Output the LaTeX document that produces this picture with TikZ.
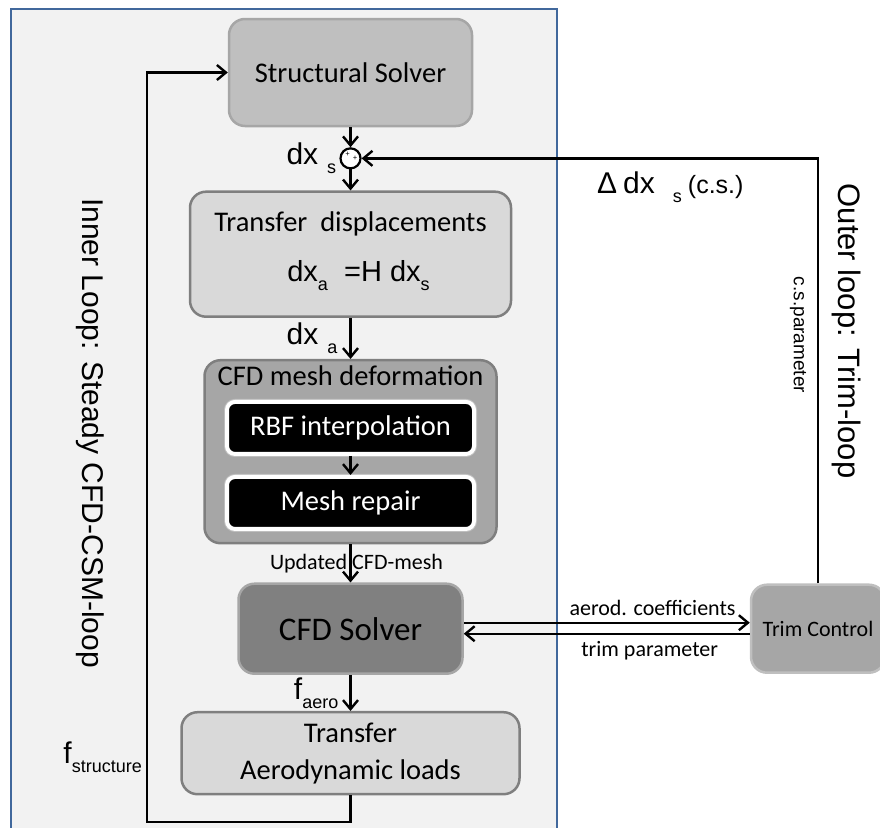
\documentclass[tikz,border=0pt]{standalone}
\usepackage{fontspec}
\setmainfont{Carlito}
\newfontfamily\arialfont{Liberation Sans}
\usepackage{tikz}
\usetikzlibrary{arrows.meta}
\usetikzlibrary{calc}
\usetikzlibrary{positioning}
\usepackage{xcolor}
\definecolor{panelfill}{HTML}{F2F2F2}
\definecolor{panelblue}{HTML}{41689C}
\definecolor{lightbox}{HTML}{D9D9D9}
\definecolor{midbox}{HTML}{BFBFBF}
\definecolor{darkbox}{HTML}{A6A6A6}
\definecolor{solverbox}{HTML}{808080}
\definecolor{edgegray}{HTML}{7F7F7F}
\newcommand{\lowtext}[1]{\raisebox{-0.3em}{\fontsize{18}{20}\selectfont #1}}
\tikzset{node distance=40pt, every text node part/.style={align=center}}
\tikzstyle{block} = [rounded corners=16pt, line width=2.5pt, inner sep=0pt, font={\fontsize{28.5}{34}\selectfont}]
\tikzstyle{inblock} = [rounded corners=8pt, draw=white, line width=4pt, fill=black, text=white, minimum width=247pt, minimum height=52pt, inner sep=0pt, preaction={draw=black!25, line width=6pt}, font={\fontsize{28.5}{34}\selectfont}]
\tikzstyle{ln} = [draw, line width=2.4pt, arrows={-Straight Barb[length=9pt,width=15pt]}]
\tikzstyle{sig} = [inner sep=0pt, font={\arialfont\fontsize{30}{34}\selectfont}]
\tikzstyle{looplabel} = [inner sep=0pt, rotate=-90, font={\arialfont\fontsize{30}{34}\selectfont}]
\tikzstyle{lnlabel} = [inner sep=0pt, font={\fontsize{22}{26}\selectfont}]

\begin{document}
\begin{tikzpicture}[x=1pt, y=-1pt]
  \useasboundingbox (0,0) rectangle (880,827);
  \clip (0,0) rectangle (880,827);
  \draw[draw=panelblue, fill=panelfill, line width=2.5pt] (11,9) rectangle (557,860);
  \node[block, draw=darkbox, fill=midbox, minimum width=243pt, minimum height=107pt] (struct-solver) at (350.5,72.5) {Structural Solver};
  \node[circle, draw, fill=white, line width=2.2pt, minimum size=20pt, inner sep=0pt, below=20pt of struct-solver] (sum) {};
  \node[font={\fontsize{8}{8}\selectfont}, inner sep=0pt] (plus-top) at ([xshift=-3pt, yshift=4pt]sum.center) {+};
  \node[font={\fontsize{8}{8}\selectfont}, inner sep=0pt] (plus-right) at ([xshift=4.5pt]sum.center) {+};
  \node[sig, left=3pt of sum] (dx-s) {dx\hspace{9pt}\lowtext{s}};
  \node[block, draw=edgegray, fill=lightbox, minimum width=321pt, minimum height=125pt, below=21pt of sum] (transfer-disp) {};
  \node[inner sep=0pt, font={\fontsize{28.5}{34}\selectfont}, below=21pt of transfer-disp.north] (disp-title) {Transfer\ \ displacements};
  \node[inner sep=0pt, font={\arialfont\fontsize{29}{34}\selectfont}, below=70pt of transfer-disp.north, xshift=8pt] (disp-formula) {dx\lowtext{a}\ \ =H\ dx\lowtext{s}};
  \node[block, draw=edgegray, fill=darkbox, minimum width=292pt, minimum height=183pt, below=41pt of transfer-disp] (mesh-def) {};
  \node[inner sep=0pt, font={\fontsize{28.5}{34}\selectfont}, below=7pt of mesh-def.north] (mesh-title) {CFD mesh deformation};
  \node[inblock, below=41pt of mesh-def.north] (rbf) {RBF interpolation};
  \node[inblock, below=19pt of rbf] (mesh-repair) {Mesh repair};
  \node[block, draw=darkbox, fill=solverbox, minimum width=224pt, minimum height=90pt, font={\fontsize{33}{38}\selectfont}, below=38pt of mesh-def] (cfd-solver) {CFD Solver};
  \node[block, draw=edgegray, fill=lightbox, minimum width=338pt, minimum height=82pt, font={\fontsize{28.5}{37}\selectfont}, below=36pt of cfd-solver] (transfer-loads) {Transfer\\Aerodynamic loads};
  \node[block, draw=midbox, fill=darkbox, minimum width=134pt, minimum height=88pt, font={\fontsize{22}{26}\selectfont}] (trim-control) at (cfd-solver -| 818,0) {Trim Control};
  \coordinate (fb-low) at (350.5,822);
  \coordinate (fb-left) at (147,822);
  \path[ln] (struct-solver) -- (sum);
  \path[ln] (sum) -- (transfer-disp);
  \path[ln] (transfer-disp) -- node[sig, midway, left=12pt] (dx-a) {dx\hspace{9pt}\lowtext{a}} (mesh-def);
  \path[ln] (rbf) -- (mesh-repair);
  \path[ln] (mesh-def) -- node[lnlabel, midway, xshift=6pt] (mesh-label) {Updated CFD-mesh} (cfd-solver);
  \path[ln] (cfd-solver) -- node[sig, midway, left=11pt] (f-aero) {f\lowtext{aero}} (transfer-loads);
  \path[ln] (transfer-loads) -- (fb-low) -- (fb-left) |- (struct-solver);
  \path[ln] ($(cfd-solver.east)+(0,-6)$) -- node[lnlabel, pos=0.66, above=6pt] (aero-label) {aerod. coefficients} ($(cfd-solver.east -| trim-control.west)+(0,-6)$);
  \path[ln] ($(trim-control.west)+(0,5)$) -- node[lnlabel, pos=0.35, below=6pt] (trim-label) {trim parameter} ($(trim-control.west -| cfd-solver.east)+(0,5)$);
  \path[ln] (trim-control) |- (sum);
  \node[looplabel] (inner-loop) at (90,433) {Inner Loop: Steady CFD-CSM-loop};
  \node[looplabel, font={\arialfont\fontsize{31}{34}\selectfont}] (outer-loop) at (847,331) {Outer loop: Trim-loop};
  \node[looplabel, font={\arialfont\fontsize{19}{22}\selectfont}] (cs-param) at (798,335) {c.s.parameter};
  \node[sig, anchor=west] (delta-dx) at (597,187) {Δ\hspace{6pt}dx\hspace{18pt}\lowtext{s}\hspace{6pt}{\fontsize{25}{28}\selectfont(c.s.)}};
  \node[sig, anchor=east] (f-struct) at (142,757) {f\lowtext{structure}};
\end{tikzpicture}
\end{document}
